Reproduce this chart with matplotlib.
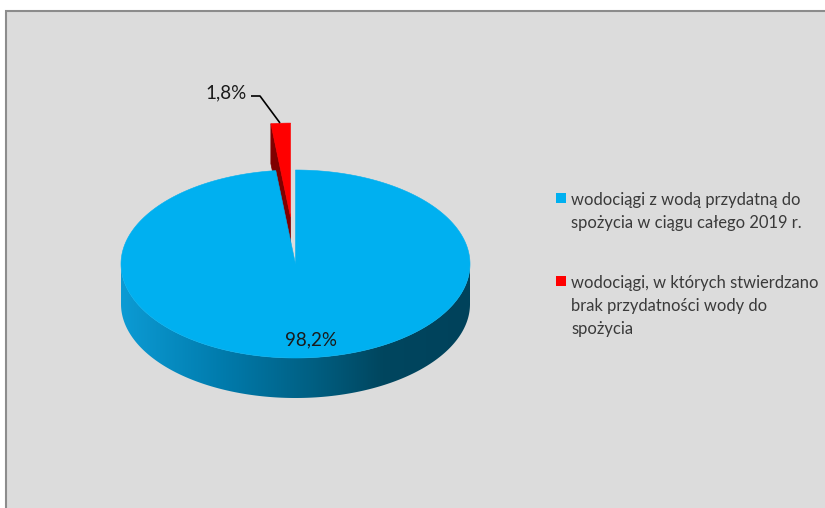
import numpy as np
import matplotlib
matplotlib.use('Agg')
import matplotlib.pyplot as plt
from matplotlib.patches import Polygon, Rectangle
from matplotlib.colors import LinearSegmentedColormap

# ---------------- data ----------------
categories = ["wodociągi z wodą przydatną do\nspożycia w ciągu całego 2019 r.",
              "wodociągi, w których stwierdzano\nbrak przydatności wody do\nspożycia"]
values = [98.2, 1.8]
value_labels = ["98,2%", "1,8%"]
colors = ["#00b0f0", "#ff0000"]
side_dark = ["#005e80", "#800000"]
explode = [0.0, 0.5]

# ---------------- figure ----------------
W, H = 825, 508
plt.rcParams['font.family'] = ['Lato', 'DejaVu Sans']
fig = plt.figure(figsize=(W / 100, H / 100), dpi=100)
fig.patch.set_facecolor('white')
ax = fig.add_axes([0, 0, 1, 1])
ax.set_xlim(0, W)
ax.set_ylim(H, 0)
ax.axis('off')

ax.add_patch(Rectangle((5.5, 10.5), W, H, facecolor='#dcdcdc',
                       edgecolor='#8c8c8c', lw=1.5, zorder=0))

cx, cy, rx, ry, depth = 295.5, 264.0, 174.5, 94.0, 40.0


def ell(th, off=(0.0, 0.0), dz=0.0):
    t = np.radians(th)
    return np.column_stack([cx + rx * np.cos(t) + off[0],
                            cy - ry * np.sin(t) + off[1] + dz])


side_cmap = LinearSegmentedColormap.from_list(
    'side', [(0, '#0c9bd4'), (0.3, '#007aab'), (0.55, '#005f82'),
             (0.75, '#00465f'), (1.0, '#00425b')])

total = sum(values)
slices = []
start = 90.0
for i, v in enumerate(values):
    a0 = start
    a1 = start - v / total * 360.0
    mid = (a0 + a1) / 2
    off = (explode[i] * rx * np.cos(np.radians(mid)),
           -explode[i] * ry * np.sin(np.radians(mid)))
    slices.append((i, a0, a1, mid, off))
    start = a1

# draw back slices first
slices.sort(key=lambda s: -np.sin(np.radians(s[3])))
z = 2
for i, a0, a1, mid, off in slices:
    c = np.array([[cx + off[0], cy + off[1]]])
    # radial faces
    faces = []
    if np.cos(np.radians(a0)) < -1e-6:
        faces.append(a0)
    if np.cos(np.radians(a1)) > 1e-6:
        faces.append(a1)
    for a in faces:
        rim_top = ell([a], off)
        rim_bot = ell([a], off, depth)
        quad = np.vstack([c, rim_top, rim_bot, c + [0, depth]])
        ax.add_patch(Polygon(quad, closed=True, facecolor=side_dark[i],
                             edgecolor=side_dark[i], lw=0.5, zorder=z))
    z += 1
    # outer side (front-facing part)
    th = np.linspace(a1, a0, 800)
    front = np.sin(np.radians(th)) <= 0
    if front.any():
        idx = np.where(front)[0]
        segs = np.split(idx, np.where(np.diff(idx) > 1)[0] + 1)
        for sgi in segs:
            t = th[sgi]
            top = ell(t, off)
            bot = ell(t[::-1], off, depth)
            poly = np.vstack([top, bot])
            if i == 0:
                p = Polygon(poly, closed=True, facecolor='none',
                            edgecolor='none', zorder=z)
                ax.add_patch(p)
                grad = np.linspace(0, 1, 256).reshape(1, -1)
                im = ax.imshow(grad, cmap=side_cmap, aspect='auto',
                               extent=(cx - rx + off[0], cx + rx + off[0],
                                       cy + depth + ry + 2, cy - 2),
                               zorder=z, interpolation='bilinear')
                im.set_clip_path(p)
            else:
                ax.add_patch(Polygon(poly, closed=True, facecolor=side_dark[i],
                                     edgecolor=side_dark[i], lw=0.5, zorder=z))
    z += 1
    # top face
    th = np.linspace(a1, a0, 800)
    topface = np.vstack([c, ell(th, off)])
    ax.add_patch(Polygon(topface, closed=True, facecolor=colors[i],
                         edgecolor=colors[i], lw=0.4, zorder=z))
    z += 1

# ---------------- data labels ----------------
ax.text(311, 345, value_labels[0], ha='center', va='baseline',
        fontsize=13.5, color='#1a1a1a', zorder=20)
ax.text(247, 98, value_labels[1], ha='right', va='baseline',
        fontsize=13.5, color='#1a1a1a', zorder=20)
ax.plot([251, 260, 280], [96, 96, 123], color='black', lw=1.2, zorder=20,
        solid_capstyle='butt')

# ---------------- legend ----------------
leg_y = [205, 288]
for i, lab in enumerate(categories):
    ax.add_patch(Rectangle((556, leg_y[i] - 12), 10, 10, facecolor=colors[i],
                           edgecolor='none', zorder=20))
    for k, line in enumerate(lab.split('\n')):
        ax.text(571, leg_y[i] + k * 23, line, ha='left', va='baseline',
                fontsize=11.9, color='#3a3a3a', zorder=20)

fig.savefig('out.png', dpi=100, facecolor=fig.get_facecolor())
